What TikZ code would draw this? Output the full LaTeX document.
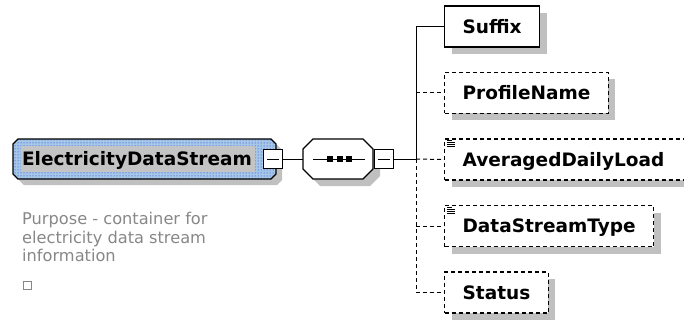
\documentclass[tikz,border=0pt]{standalone}
\usepackage{fontspec}
\setmainfont{DejaVu Sans}
\usetikzlibrary{shadows,patterns}
\definecolor{shadowgray}{RGB}{192,192,192}
\definecolor{bandbg}{RGB}{165,200,230}
\definecolor{dotblue}{RGB}{30,30,225}
\definecolor{innergray}{RGB}{196,196,196}
\definecolor{cmtgray}{RGB}{135,135,135}
\begin{document}
\begin{tikzpicture}[x=1pt,y=-1pt,
  shad/.style={drop shadow={shadow xshift=7pt,shadow yshift=-7pt,fill=shadowgray,opacity=1}},
  elem/.style={draw, line width=1.2pt, fill=white, minimum height=41pt, inner xsep=18pt, inner ysep=0pt,
    text height=13.5pt, text depth=0pt, font=\fontsize{18.5}{22}\selectfont\bfseries, shad},
  optelem/.style={elem, dash pattern=on 4pt off 3pt},
  conn/.style={line width=1pt},
  optconn/.style={conn, dash pattern=on 4pt off 3pt},
  minusbox/.style={draw, line width=1pt, fill=white, minimum size=19pt, inner sep=0pt},
  cmt/.style={inner sep=0pt, anchor=base west, text=cmtgray, font=\fontsize{16.2}{18}\selectfont},
  icon/.style={line width=0.8pt},
  holder/.style={draw=none, inner sep=0pt},
  octo/.style={line width=1.2pt},
]
\path[use as bounding box] (0,0) rectangle (684,323);

% main element (chamfered box)
\node[holder, minimum width=263pt, minimum height=40pt] (main) at (144.5,159) {};
\fill[shadowgray] (24,145) -- (277,145) -- (282,150) -- (282,180) -- (277,185) -- (24,185) -- (19,180) -- (19,150) -- cycle;
\path[fill=bandbg] (18,139) -- (271,139) -- (276,144) -- (276,174) -- (271,179) -- (18,179) -- (13,174) -- (13,144) -- cycle;
\path[pattern=dots, pattern color=dotblue] (18,139) -- (271,139) -- (276,144) -- (276,174) -- (271,179) -- (18,179) -- (13,174) -- (13,144) -- cycle;
\fill[innergray] (21,146) rectangle (255,172);
\draw[octo] (18,139) -- (271,139) -- (276,144) -- (276,174) -- (271,179) -- (18,179) -- (13,174) -- (13,144) -- cycle;
\node[inner sep=0pt, anchor=base, font=\fontsize{18.5}{22}\selectfont\bfseries] (mainlabel) at (137,165.75) {ElectricityDataStream};
\node[minusbox] (mminus) at (273,159) {};
\draw[conn] ([xshift=4pt]mminus.west) -- ([xshift=-4pt]mminus.east);

% sequence (octagon)
\node[holder, minimum width=70pt, minimum height=40pt] (seq) at (338,159) {};
\fill[shadowgray] (320,146) -- (370,146) -- (380,156) -- (380,176) -- (370,186) -- (320,186) -- (310,176) -- (310,156) -- cycle;
\draw[octo, fill=white] (313,139) -- (363,139) -- (373,149) -- (373,169) -- (363,179) -- (313,179) -- (303,169) -- (303,149) -- cycle;
\draw[conn] (313,159) -- (365,159);
\fill (327,156) rectangle (333,162);
\fill (337,156) rectangle (343,162);
\fill (346,156) rectangle (352,162);
\node[minusbox] (sminus) at (383.5,159) {};
\draw[conn] ([xshift=4pt]sminus.west) -- ([xshift=-4pt]sminus.east);

% children
\node[elem, anchor=west] (suffix) at (444,26.5) {Suffix};
\node[optelem, anchor=west] (profile) at (444,93) {ProfileName};
\node[optelem, anchor=west, text width=250pt, align=left] (adl) at (444,159.5) {AveragedDailyLoad};
\node[optelem, anchor=west] (dst) at (444,226) {DataStreamType};
\node[optelem, anchor=west] (status) at (444,292.5) {Status};

% icons
\foreach \n in {adl,dst}{
  \draw[icon] ([xshift=3pt,yshift=-2.5pt]\n.north west) -- ++(5,0);
  \draw[icon] ([xshift=2.5pt,yshift=-4.5pt]\n.north west) -- ++(8,0);
  \draw[icon] ([xshift=2.5pt,yshift=-6.5pt]\n.north west) -- ++(8,0);
  \draw[icon] ([xshift=2.5pt,yshift=-8.5pt]\n.north west) -- ++(8,0);
}

% connectors
\draw[conn] (mminus.east) -- (seq.west);
\coordinate (j) at (416,159);
\draw[conn] (sminus.east) -- (j);
\draw[conn] (j) |- (suffix.west);
\draw[optconn] (j) -- (adl.west);
\draw[optconn] (j) |- (status.west);
\draw[optconn] (profile.west -| j) -- (profile.west);
\draw[optconn] (dst.west -| j) -- (dst.west);

% comment
\node[cmt] (c1) at (22,224.5) {Purpose - container for};
\node[cmt] (c2) at (22,243) {electricity data stream};
\node[cmt] (c3) at (22,261.5) {information};
\node[draw=cmtgray, line width=1pt, minimum size=8pt, inner sep=0pt] (sq) at (27,285) {};
\end{tikzpicture}
\end{document}
